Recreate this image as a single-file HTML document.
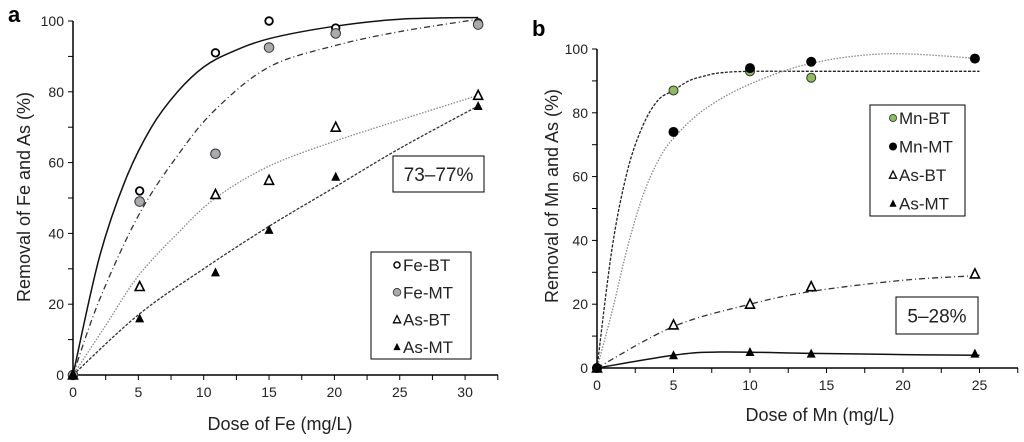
<!DOCTYPE html>
<html><head><meta charset="utf-8"><style>
html,body{margin:0;padding:0;background:#fff;}
svg{display:block;font-family:"Liberation Sans",Arial,sans-serif;}
</style></head><body>
<svg id="c" width="1024" height="442" viewBox="0 0 1024 442"></svg>
<script>
// ---------- Panel A data ----------
const aXTicks = [0,5,10,15,20,25,30];
const aYTicks = [0,20,40,60,80,100];
const aFeBT_x = [0,5.1,10.9,15,20.1,31];
const aFeBT_y = [0,52,91,100,98,99.5];
const aFeMT_x = [0,5.1,10.9,15,20.1,31];
const aFeMT_y = [0,49,62.5,92.5,96.5,99];
const aAsBT_x = [0,5.1,10.9,15,20.1,31];
const aAsBT_y = [0,25,51,55,70,79];
const aAsMT_x = [0,5.1,10.9,15,20.1,31];
const aAsMT_y = [0,16,29,41,56,76];
// fitted curves
const aFeBTfit_x = [0,2,4,6,8,10,12,15,20,25,31];
const aFeBTfit_y = [0,33,55,70,80,87,91,95,98.5,100.5,101];
const aFeMTfit_x = [0,2,5,8,10.9,15,20,25,31];
const aFeMTfit_y = [0,21,45,62,75,87,93,97,100.5];
const aAsBTfit_x = [0,2.5,5,8,10.9,15,20,25,31];
const aAsBTfit_y = [0,14,28,40,50,59,66,72,79];
const aAsMTfit_x = [0,5,10,15,20,25,31];
const aAsMTfit_y = [0,17,30,42,53,64,76];
// ---------- Panel B data ----------
const bXTicks = [0,5,10,15,20,25];
const bYTicks = [0,20,40,60,80,100];
const bMnBT_x = [0,5,10,14];
const bMnBT_y = [0,87,93,91];
const bMnMT_x = [0,5,10,14,24.7];
const bMnMT_y = [0,74,94,96,97];
const bAsBT_x = [0,5,10,14,24.7];
const bAsBT_y = [0,13.5,20,25.5,29.5];
const bAsMT_x = [0,5,10,14,24.7];
const bAsMT_y = [0,4,5,4.5,4.5];
const bMnBTfit_x = [0,1,2,3,4,5,6,7,8,10,15,25];
const bMnBTfit_y = [0,38,62,76,84,87,90,91.5,92.5,93,93,93];
const bMnMTfit_x = [0,1,2,3,4,5,7,10,14,19,25];
const bMnMTfit_y = [0,18,38,54,65,72,81,89,95.5,98.5,97];
const bAsBTfit_x = [0,5,10,14,20,25];
const bAsBTfit_y = [0,13,20,24,27.5,29];
const bAsMTfit_x = [0,5,8,14,20,25];
const bAsMTfit_y = [0,4,5,4.6,4.2,4];

const NS="http://www.w3.org/2000/svg";
const svg=document.getElementById('c');
function el(tag,attrs,parent,text){
  const e=document.createElementNS(NS,tag);
  for(const k in attrs) e.setAttribute(k,attrs[k]);
  if(text!==undefined) e.textContent=text;
  (parent||svg).appendChild(e); return e;
}
function smooth(pts){
  let d=`M${pts[0][0]},${pts[0][1]}`;
  for(let i=0;i<pts.length-1;i++){
    const p0=pts[i-1]||pts[i],p1=pts[i],p2=pts[i+1],p3=pts[i+2]||p2;
    const c1=[p1[0]+(p2[0]-p0[0])/6,p1[1]+(p2[1]-p0[1])/6];
    const c2=[p2[0]-(p3[0]-p1[0])/6,p2[1]-(p3[1]-p1[1])/6];
    d+=` C${c1[0]},${c1[1]} ${c2[0]},${c2[1]} ${p2[0]},${p2[1]}`;
  }
  return d;
}
function marker(g,type,x,y){
  let m;
  if(type==='openCircle') m=el('circle',{cx:x,cy:y,r:3.8,fill:'#fff',stroke:'#000','stroke-width':1.8},g);
  else if(type==='greyCircle') m=el('circle',{cx:x,cy:y,r:4.8,fill:'#a9aaae',stroke:'#333','stroke-width':1},g);
  else if(type==='greenCircle') m=el('circle',{cx:x,cy:y,r:4.5,fill:'#8cbd5a',stroke:'#333','stroke-width':1},g);
  else if(type==='blackCircle') m=el('circle',{cx:x,cy:y,r:5,fill:'#000'},g);
  else if(type==='openTri') m=el('polygon',{points:`${x},${y-5} ${x-4.5},${y+4} ${x+4.5},${y+4}`,fill:'#fff',stroke:'#000','stroke-width':1.6},g);
  else m=el('polygon',{points:`${x},${y-5} ${x-4.5},${y+4} ${x+4.5},${y+4}`,fill:'#000'},g);
  return m;
}
function panel(cfg){
  const g=el('g',{},svg);
  
  
  const X=v=>cfg.x0+v*cfg.sx, Y=v=>cfg.y0-v*cfg.sy;
  const axes=el('path',{d:`M${cfg.x0},${Y(100)} V${cfg.y0} H${cfg.xEnd}`,fill:'none',stroke:'#000','stroke-width':1.5},g);
  
  
  for(let v=0;v<=100;v+=10){ el('line',{x1:cfg.x0-5,x2:cfg.x0,y1:Y(v),y2:Y(v),stroke:'#000','stroke-width':1},g); }
  cfg.yTicks.forEach(v=>{
    const t=el('text',{x:cfg.x0-9,y:Y(v)+5,'text-anchor':'end','font-size':14,fill:'#222'},g,String(v));
    
    
  });
  for(let v=0;X(v)<=cfg.xEnd;v+=2.5){ el('line',{x1:X(v),x2:X(v),y1:cfg.y0,y2:cfg.y0+5,stroke:'#000','stroke-width':1},g); }
  cfg.xTicks.forEach(v=>{
    const t=el('text',{x:X(v),y:cfg.y0+22,'text-anchor':'middle','font-size':14,fill:'#222'},g,String(v));
    
    
  });
  const xt=el('text',{x:cfg.xtX,y:cfg.xtY,'text-anchor':'middle','font-size':18,fill:'#222'},g,cfg.xTitle);
  
  
  const yt=el('text',{x:0,y:0,'text-anchor':'middle','font-size':18,fill:'#222',transform:`translate(${cfg.ytX},${cfg.ytY}) rotate(-90)`},g,cfg.yTitle);
  
  
  const pl=el('text',{x:cfg.plX,y:cfg.plY,'font-size':22,'font-weight':'bold',fill:'#000'},g,cfg.label);
  
  
  cfg.series.forEach(s=>{
    const pts=s.fx.map((v,i)=>[X(v),Y(s.fy[i])]);
    const p=el('path',{d:smooth(pts),fill:'none',stroke:s.color,'stroke-width':s.w||1.3,'stroke-dasharray':s.dash},g);
    
    
  });
  cfg.series.forEach(s=>{
    s.x.forEach((v,i)=>{
      const m=marker(g,s.m,X(v),Y(s.y[i]));
      
      
    });
  });
  const lg=el('g',{},g);
  
  
  el('rect',{x:cfg.lg[0],y:cfg.lg[1],width:cfg.lg[2],height:cfg.lg[3],fill:'#fff',stroke:'#000','stroke-width':1},lg);
  cfg.series.forEach((s,i)=>{
    const yy=cfg.lgY0+i*cfg.lgDy;
    const m=marker(lg,s.m,cfg.lgMx,yy);
    m.setAttribute('transform',`translate(${cfg.lgMx},${yy}) scale(0.8) translate(${-cfg.lgMx},${-yy})`);
    const t=el('text',{x:cfg.lgMx+6,y:yy+6,'font-size':17,fill:'#222'},lg,s.label);
    
    
  });
  const bx=el('g',{},g);
  
  
  el('rect',{x:cfg.bx[0],y:cfg.bx[1],width:cfg.bx[2],height:cfg.bx[3],fill:'#fff',stroke:'#000','stroke-width':1},bx);
  el('text',{x:cfg.bx[0]+cfg.bx[2]/2,y:cfg.bx[1]+cfg.bx[3]/2+7,'text-anchor':'middle','font-size':19,fill:'#222'},bx,cfg.bxText);
}
panel({name:'panel-a',label:'a',plX:8,plY:22,x0:73,y0:375,sx:13.07,sy:3.54,xEnd:498,
  xTicks:aXTicks,yTicks:aYTicks,xTitle:'Dose of Fe (mg/L)',xtX:280,xtY:430,
  yTitle:'Removal of Fe and As (%)',ytX:30,ytY:197,
  lg:[371,252,100,107],lgMx:397,lgY0:265,lgDy:27.3,
  bx:[393,156,91,36],bxText:'73–77%',
  series:[
   {id:'fe-bt',label:'Fe-BT',m:'openCircle',x:aFeBT_x,y:aFeBT_y,fx:aFeBTfit_x,fy:aFeBTfit_y,color:'#111',w:1.5},
   {id:'fe-mt',label:'Fe-MT',m:'greyCircle',x:aFeMT_x,y:aFeMT_y,fx:aFeMTfit_x,fy:aFeMTfit_y,color:'#333',dash:'6,3,1,3'},
   {id:'as-bt',label:'As-BT',m:'openTri',x:aAsBT_x,y:aAsBT_y,fx:aAsBTfit_x,fy:aAsBTfit_y,color:'#888',dash:'1.5,1.5'},
   {id:'as-mt',label:'As-MT',m:'blackTri',x:aAsMT_x,y:aAsMT_y,fx:aAsMTfit_x,fy:aAsMTfit_y,color:'#333',dash:'3,1.5'}
  ]});
panel({name:'panel-b',label:'b',plX:532,plY:36,x0:597,y0:368,sx:15.3,sy:3.19,xEnd:1018,
  xTicks:bXTicks,yTicks:bYTicks,xTitle:'Dose of Mn (mg/L)',xtX:820,xtY:421,
  yTitle:'Removal of Mn and As (%)',ytX:558,ytY:196,
  lg:[870,105,95,111],lgMx:893,lgY0:118,lgDy:28.5,
  bx:[896,297,82,37],bxText:'5–28%',
  series:[
   {id:'mn-bt',label:'Mn-BT',m:'greenCircle',x:bMnBT_x,y:bMnBT_y,fx:bMnBTfit_x,fy:bMnBTfit_y,color:'#222',dash:'3,1.5'},
   {id:'mn-mt',label:'Mn-MT',m:'blackCircle',x:bMnMT_x,y:bMnMT_y,fx:bMnMTfit_x,fy:bMnMTfit_y,color:'#888',dash:'1.5,1.5'},
   {id:'as-bt',label:'As-BT',m:'openTri',x:bAsBT_x,y:bAsBT_y,fx:bAsBTfit_x,fy:bAsBTfit_y,color:'#333',dash:'6,3,1,3'},
   {id:'as-mt',label:'As-MT',m:'blackTri',x:bAsMT_x,y:bAsMT_y,fx:bAsMTfit_x,fy:bAsMTfit_y,color:'#111',w:1.5}
  ]});
</script>
</body></html>
